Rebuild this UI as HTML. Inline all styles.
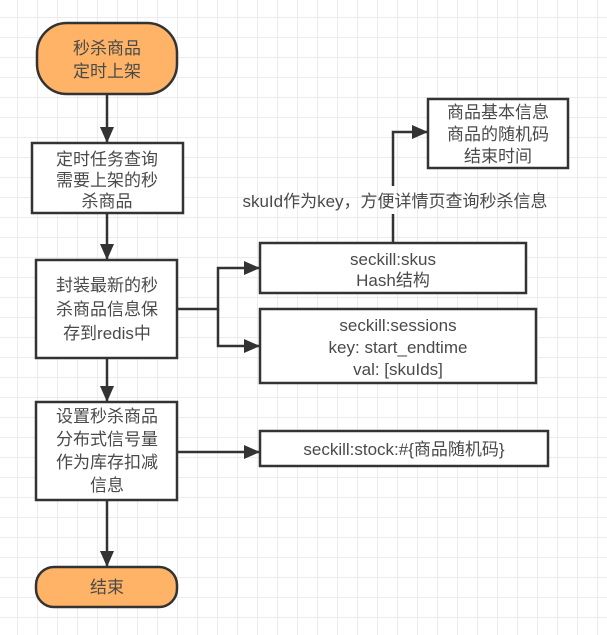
<!DOCTYPE html>
<html><head><meta charset="utf-8"><style>
html,body{margin:0;padding:0}
body{width:607px;height:635px;background:#fff;overflow:hidden;
background-image:linear-gradient(#ececec 1px,transparent 1px),linear-gradient(90deg,#ececec 1px,transparent 1px);
background-size:20px 20px;background-position:-3px -3px;}
svg text{font-family:"Liberation Sans","Noto Sans CJK SC",sans-serif;font-size:17px;fill:#4a4a4a;text-anchor:middle}
</style></head><body>
<svg width="607" height="635" viewBox="0 0 607 635" style="position:absolute;left:0;top:0">
<defs><marker id="a" markerWidth="16" markerHeight="14" refX="15" refY="7" orient="auto" markerUnits="userSpaceOnUse"><path d="M0,0 L16,7 L0,14 z" fill="#333"/></marker></defs>
<g stroke="#333" stroke-width="2.5" fill="none">
<rect x="37" y="23" width="140" height="71" rx="30" fill="#ffb366"/>
<rect x="32" y="143" width="151" height="70" fill="#fff"/>
<rect x="36" y="260" width="141" height="98" fill="#fff"/>
<rect x="36" y="402" width="141" height="98" fill="#fff"/>
<rect x="36" y="567" width="141" height="40" rx="18" fill="#ffb366"/>
<rect x="260" y="243" width="266" height="50" fill="#fff"/>
<rect x="260" y="309" width="276" height="74" fill="#fff"/>
<rect x="428" y="99" width="140" height="69" fill="#fff"/>
<rect x="260" y="431" width="288" height="35" fill="#fff"/>
<path d="M107 95 V142" marker-end="url(#a)"/>
<path d="M107 213 V259" marker-end="url(#a)"/>
<path d="M107 358 V401" marker-end="url(#a)"/>
<path d="M107 500 V566" marker-end="url(#a)"/>
<path d="M177 309 H218 V268 H259" marker-end="url(#a)"/>
<path d="M218 309 V346 H259" marker-end="url(#a)"/>
<path d="M177 452 H259" marker-end="url(#a)"/>
<path d="M393 243 V214 M393 186 V132 H427" marker-end="url(#a)"/>
</g>
<text x="107" y="54">秒杀商品</text><text x="107" y="77">定时上架</text>
<text x="107" y="165">定时任务查询</text><text x="107" y="186">需要上架的秒</text><text x="107" y="207">杀商品</text>
<text x="107" y="291">封装最新的秒</text><text x="107" y="315">杀商品信息保</text><text x="107" y="339">存到redis中</text>
<text x="107" y="422">设置秒杀商品</text><text x="107" y="445">分布式信号量</text><text x="107" y="468">作为库存扣减</text><text x="107" y="491">信息</text>
<text x="107" y="593">结束</text>
<text x="393" y="265">seckill:skus</text><text x="393" y="286">Hash结构</text>
<text x="398" y="331">seckill:sessions</text><text x="398" y="353">key: start_endtime</text><text x="398" y="375">val:  [skuIds]</text>
<text x="498" y="118">商品基本信息</text><text x="498" y="140">商品的随机码</text><text x="498" y="162">结束时间</text>
<text x="404" y="455">seckill:stock:#{商品随机码}</text>
<text x="395" y="207">skuId作为key，方便详情页查询秒杀信息</text>
</svg>
</body></html>
